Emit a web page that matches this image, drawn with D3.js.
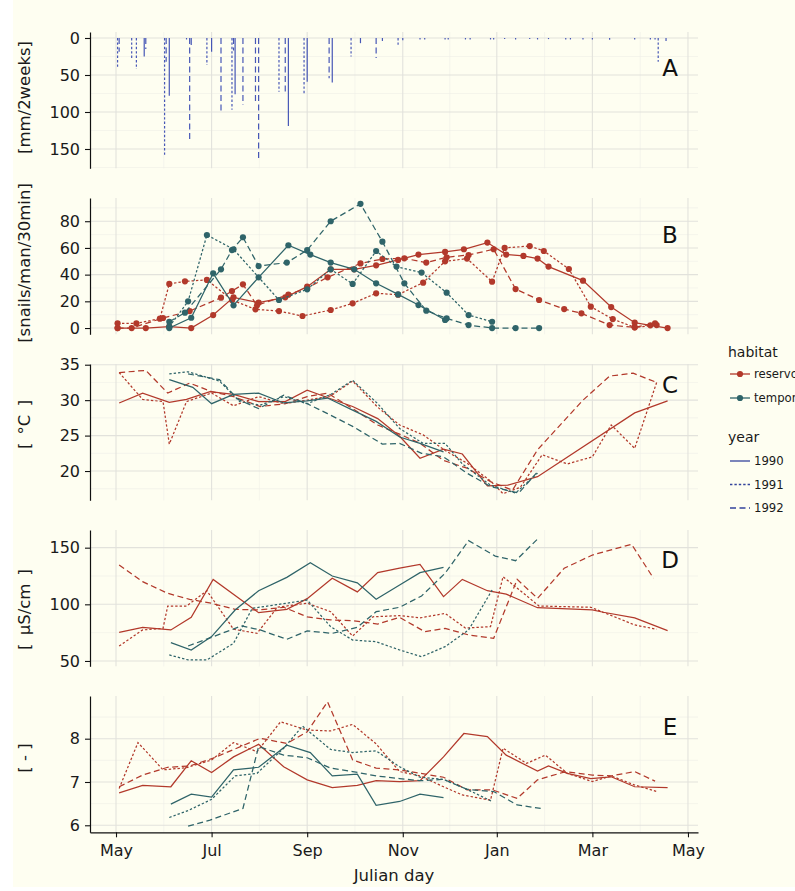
<!DOCTYPE html>
<html>
<head>
<meta charset="utf-8">
<script src="https://cdn.jsdelivr.net/npm/d3@7"></script>
<style>
  body { margin: 0; background: #ffffff; }
  svg { display: block; }
  text { font-family: "DejaVu Sans", Verdana, sans-serif; }
</style>
</head>
<body>
<svg id="chart" width="795" height="891"></svg>
<script>
// ---- Season axis: day 0 = 1 May ----
const monthTickDays = [0, 61, 122, 183, 243, 304, 365];
const monthLabels = ["May", "Jul", "Sep", "Nov", "Jan", "Mar", "May"];

// ---- Y tick values per panel ----
const rainTicks = [0, 50, 100, 150];
const snailTicks = [0, 20, 40, 60, 80];
const tempTicks = [20, 25, 30, 35];
const condTicks = [50, 100, 150];
const phTicks = [6, 7, 8];

const habitatLabels = ["reservoir", "temporary"];
const yearLabels = ["1990", "1991", "1992"];

// ---- A: rainfall, [day, mm per 2 weeks] ----
const rain1990 = [[18,25],[34,78],[48,9.5],[61,18.5],[76,76],[110,119],[122,59],[138,60],[156,7],[183,3],[210,2],[241,2],[264,1.5],[290,2],[315,2.5],[341,2]];
const rain1991 = [[1,41],[10,27.5],[13,42],[31,160],[58,36.5],[74,97],[104,72.5],[120,74.8],[150,25],[180,11.7],[197,2],[226,2],[248,1.5],[269,2],[298,2],[331,2],[346,32]];
const rain1992 = [[2,18.5],[19,15],[32,32],[45,2],[47,137],[67,102],[75,17],[81,90.5],[89,88],[91,167],[108,74.8],[136,54.5],[166,27],[170,4],[194,2],[212,2],[223,2],[239,2],[255,2],[276,1.5],[287,2],[304,2],[344,2],[351,4]];

// ---- B: snail counts, [day, snails/man/30min] ----
const snailsReservoir1990 = [[1,0],[19,0],[34,1],[48,0],[62,9.7],[75,23],[91,19],[108,23],[122,31],[137,44],[152,44],[166,47],[180,51],[193,55],[210,57],[222,59],[237,64],[249,55],[260,54],[269,52],[276,46],[298,35.5],[316,15.7],[331,4],[341,2],[352,0]];
const snailsReservoir1991 = [[1,3.5],[13,3.5],[28,7],[34,33],[44,35],[58,36],[74,21],[89,14],[104,12.7],[119,9],[137,13.5],[151,18.5],[166,26],[180,25],[196,34],[210,50],[224,52],[240,34.7],[248,60],[264,61.4],[273,57.7],[289,44.2],[303,16],[317,6.7],[331,0.5],[345,2.2]];
const snailsReservoir1992 = [[1,0],[10,0],[30,7.5],[47,12.7],[67,22.7],[74,27.7],[81,32.7],[90,17],[110,25],[122,30],[135,38],[156,48.4],[170,51.7],[184,52.2],[198,49],[211,53],[225,54.7],[241,59],[255,29.2],[270,21],[286,14.2],[297,11],[315,2.2],[331,0.5],[344,3.5]];
const snailsTemporary1990 = [[34,0],[48,7.7],[62,41],[75,17],[91,38],[110,62],[124,55],[137,49],[152,44],[166,33.5],[180,25.2],[193,17.2],[210,6]];
const snailsTemporary1991 = [[34,1],[46,20],[58,69.7],[75,59],[104,21],[122,29],[137,44],[151,33],[166,57.7],[179,46],[195,41.5],[211,26.5],[225,9.7],[240,4.7]];
const snailsTemporary1992 = [[34,4.7],[44,11.5],[67,44],[74,58.4],[81,68],[91,46.4],[109,49],[122,58.4],[137,80],[156,93],[170,64.7],[184,33.5],[198,13],[211,7.2],[225,2.2],[240,0],[255,0],[270,0]];

// ---- C: water temperature, [day, °C] ----
const tempReservoir1990 = [[2,29.6],[17,31.0],[34,29.7],[45,30.1],[60,31.2],[75,30.8],[91,29.8],[108,29.8],[122,31.4],[137,30.2],[151,29.1],[167,27.4],[181,24.9],[194,21.8],[209,23.1],[221,22.4],[237,17.9],[250,18.0],[269,19.2],[331,28.2],[352,29.9]];
const tempReservoir1991 = [[2,33.9],[17,30.1],[30,29.8],[34,23.8],[45,29.8],[61,31.0],[75,29.2],[91,30.5],[107,29.5],[122,30.0],[137,30.6],[151,32.7],[167,29.0],[181,26.5],[196,25.1],[210,22.9],[224,21.1],[239,18.6],[247,16.8],[258,17.7],[272,22.3],[288,21.0],[304,22.0],[316,26.5],[331,23.2],[345,32.5]];
const tempReservoir1992 = [[2,33.9],[19,34.2],[33,31.0],[47,32.4],[61,31.2],[75,30.5],[92,29.1],[108,29.5],[122,30.5],[135,31.0],[151,28.8],[167,26.5],[181,25.2],[194,23.9],[209,21.5],[224,20.4],[239,18.5],[253,17.3],[269,23.0],[298,30.0],[315,33.4],[330,33.8],[345,32.5]];
const tempTemporary1990 = [[34,32.9],[49,31.8],[61,29.5],[75,30.8],[91,31.0],[107,29.6],[122,29.9],[135,30.3],[151,28.6],[166,27.0],[181,24.8],[194,23.9],[209,22.7]];
const tempTemporary1991 = [[34,33.7],[46,34.0],[66,32.7],[79,29.8],[92,29.3],[107,30.5],[122,29.5],[137,30.8],[151,32.8],[167,29.5],[181,26.0],[196,23.9],[210,23.9],[221,21.0],[239,18.0],[255,16.9],[269,19.7]];
const tempTemporary1992 = [[46,33.7],[66,32.9],[78,30.1],[91,28.8],[107,30.7],[122,29.5],[135,28.1],[151,26.3],[170,23.8],[181,23.9],[195,22.5],[209,22.0],[224,19.7],[239,17.8],[257,16.9],[269,19.9]];

// ---- D: conductivity, [day, µS/cm] ----
const condReservoir1990 = [[2,75.3],[17,79.7],[35,77.4],[48,88.5],[62,122],[91,92.6],[109,95.6],[122,105],[138,123],[154,111],[167,128],[181,132],[194,135.3],[209,106.8],[221,122],[237,112],[249,109],[269,97],[304,95],[311,93],[331,88],[352,76.8]];
const condReservoir1991 = [[2,63.2],[17,77.4],[30,78.8],[33,98.5],[45,98.5],[58,112],[75,78],[90,74.4],[103,97.4],[122,101],[137,93.5],[151,72],[164,89],[181,90],[194,88],[210,92],[223,79],[239,80.3],[247,124.4],[270,98.5],[303,97.4],[331,81.8],[345,78]];
const condReservoir1992 = [[2,134.7],[17,120],[33,109.7],[47,104.4],[61,100.9],[76,95.6],[91,95],[107,97.4],[122,89],[137,86.2],[151,85.6],[167,82.6],[181,88.5],[197,75.9],[210,78.8],[225,73],[241,70],[256,122],[269,105.3],[286,131.8],[304,143.5],[329,153],[343,123]];
const condTemporary1990 = [[35,66.2],[48,59.7],[61,71.5],[76,95],[91,112],[109,123.8],[124,136.8],[138,125],[154,119],[166,104.4],[181,117],[194,128],[209,132.6]];
const condTemporary1991 = [[34,55.3],[46,50.9],[58,50.9],[75,65.6],[87,96.5],[109,101],[122,103.8],[137,80.3],[151,68.5],[166,67],[181,59.7],[195,53.8],[210,62.6],[225,77.4],[240,112.6]];
const condTemporary1992 = [[46,63.2],[61,70.9],[80,80.9],[92,77.4],[109,69.1],[122,76.5],[138,74.4],[154,79.7],[166,93.5],[181,97.4],[195,107.4],[210,127.4],[225,156.2],[242,142.6],[255,138.5],[270,159]];

// ---- E: pH, [day, pH] ----
const phReservoir1990 = [[2,6.75],[17,6.92],[35,6.89],[48,7.49],[61,7.22],[75,7.58],[91,7.87],[107,7.35],[122,7.05],[138,6.87],[154,6.92],[166,7.03],[181,7.01],[194,7.03],[209,7.58],[222,8.12],[237,8.05],[249,7.62],[269,7.25],[276,7.37],[288,7.2],[303,7.08],[316,7.12],[331,6.89],[352,6.87]];
const phReservoir1991 = [[2,6.85],[14,7.91],[30,7.28],[45,7.33],[61,7.51],[75,7.91],[90,7.70],[105,8.39],[122,8.2],[137,8.18],[151,8.33],[166,7.88],[181,7.24],[194,7.14],[209,6.89],[221,6.70],[239,6.58],[247,7.78],[262,7.43],[274,7.62],[288,7.2],[304,7.01],[316,7.14],[331,6.93],[345,6.78]];
const phReservoir1992 = [[2,6.89],[17,7.16],[33,7.34],[47,7.37],[62,7.55],[77,7.78],[92,8.01],[109,7.89],[122,8.16],[135,8.85],[151,7.51],[166,7.32],[181,7.28],[209,7.11],[224,6.82],[240,6.82],[256,6.62],[269,7.05],[287,7.24],[304,7.16],[316,7.14],[331,7.24],[344,7.02]];
const phTemporary1990 = [[35,6.49],[48,6.72],[61,6.65],[75,7.28],[91,7.34],[109,7.85],[124,7.68],[138,7.14],[154,7.18],[166,6.46],[181,6.55],[194,6.72],[209,6.64]];
const phTemporary1991 = [[34,6.18],[46,6.34],[61,6.6],[76,7.14],[90,7.2],[107,7.78],[119,8.29],[137,7.75],[151,7.68],[166,7.72],[181,7.35],[194,7.11],[209,7.06],[224,6.83],[240,6.55]];
const phTemporary1992 = [[46,5.98],[60,6.12],[81,6.39],[91,7.82],[107,7.62],[122,7.56],[137,7.32],[151,7.24],[166,7.14],[181,7.08],[194,7.03],[209,7.06],[224,6.83],[241,6.78],[256,6.47],[271,6.39]];

// ---- styling ----
const bg = "#fefef1";
const habitatColor = { reservoir: "#b2392b", temporary: "#2f6469" };
const rainColor = "#4757b6";
const yearKeyColor = "#33439c";
const yearDash = { "1990": null, "1991": "2.4,2", "1992": "6,3.5" };
const gridMajor = "#e2e2dc";
const gridMinor = "#eeeee7";

const svg = d3.select("#chart");
svg.append("rect").attr("x", 13).attr("y", 0).attr("width", 782).attr("height", 887).attr("fill", bg);

const left = 90, right = 698, panelH = 136.3;
const x = d3.scaleLinear().domain([-16.6, 371.4]).range([left, right]);

const lineSets = {
  B: { reservoir: [snailsReservoir1990, snailsReservoir1991, snailsReservoir1992],
       temporary: [snailsTemporary1990, snailsTemporary1991, snailsTemporary1992] },
  C: { reservoir: [tempReservoir1990, tempReservoir1991, tempReservoir1992],
       temporary: [tempTemporary1990, tempTemporary1991, tempTemporary1992] },
  D: { reservoir: [condReservoir1990, condReservoir1991, condReservoir1992],
       temporary: [condTemporary1990, condTemporary1991, condTemporary1992] },
  E: { reservoir: [phReservoir1990, phReservoir1991, phReservoir1992],
       temporary: [phTemporary1990, phTemporary1991, phTemporary1992] }
};

const panels = [
  { id: "A", top: 32,  domain: [-8.1, 176.1], reversed: true, ticks: rainTicks,  title: "[mm/2weeks]",        titleY: 97.5,  letterY: 76 },
  { id: "B", top: 198, domain: [-4.7, 97.4],  ticks: snailTicks, title: "[snails/man/30min]", titleY: 263,   letterY: 243 },
  { id: "C", top: 364, domain: [15.87, 35.1], ticks: tempTicks,  title: "[\u2002°C\u2002]",    titleY: 424.5, letterY: 393 },
  { id: "D", top: 530, domain: [45.3, 165.6], ticks: condTicks,  title: "[\u2002μS/cm\u2002]", titleY: 609.5, letterY: 568 },
  { id: "E", top: 696, domain: [5.838, 8.986], ticks: phTicks,   title: "[ - ]",              titleY: 758,   letterY: 735 }
];

// minor breaks halfway between majors, extended one step either side
function minorBreaks(ticks, domain) {
  const step = ticks[1] - ticks[0];
  const out = [];
  for (let v = ticks[0] - step / 2; v <= ticks[ticks.length - 1] + step; v += step) out.push(v);
  const lo = Math.min(...domain), hi = Math.max(...domain);
  return out.filter(v => v >= lo && v <= hi);
}
const minorDays = [];
for (let i = 0; i < monthTickDays.length - 1; i++) minorDays.push((monthTickDays[i] + monthTickDays[i + 1]) / 2);

panels.forEach(p => {
  const bottom = p.top + panelH;
  const y = d3.scaleLinear().domain(p.domain).range(p.reversed ? [p.top, bottom] : [bottom, p.top]);
  const g = svg.append("g").attr("class", "panel-" + p.id);

  // grid
  const grid = g.append("g");
  grid.selectAll("line.vmin").data(minorDays).join("line")
    .attr("x1", d => x(d)).attr("x2", d => x(d)).attr("y1", p.top).attr("y2", bottom)
    .attr("stroke", gridMinor).attr("stroke-width", 0.6);
  grid.selectAll("line.hmin").data(minorBreaks(p.ticks, p.domain)).join("line")
    .attr("x1", left).attr("x2", right).attr("y1", d => y(d)).attr("y2", d => y(d))
    .attr("stroke", gridMinor).attr("stroke-width", 0.6);
  grid.selectAll("line.vmaj").data(monthTickDays).join("line")
    .attr("x1", d => x(d)).attr("x2", d => x(d)).attr("y1", p.top).attr("y2", bottom)
    .attr("stroke", gridMajor).attr("stroke-width", 1.1);
  grid.selectAll("line.hmaj").data(p.ticks).join("line")
    .attr("x1", left).attr("x2", right).attr("y1", d => y(d)).attr("y2", d => y(d))
    .attr("stroke", gridMajor).attr("stroke-width", 1.1);

  // marks
  if (p.id === "A") {
    const rainSets = [rain1990, rain1991, rain1992];
    rainSets.forEach((set, i) => {
      g.append("g").selectAll("line").data(set).join("line")
        .attr("x1", d => x(d[0])).attr("x2", d => x(d[0]))
        .attr("y1", y(0)).attr("y2", d => y(d[1]))
        .attr("stroke", rainColor).attr("stroke-width", 1.2)
        .attr("stroke-dasharray", yearDash[yearLabels[i]]);
    });
  } else {
    const line = d3.line().x(d => x(d[0])).y(d => y(d[1]));
    habitatLabels.forEach(h => {
      lineSets[p.id][h].forEach((set, i) => {
        g.append("path").datum(set).attr("d", line)
          .attr("fill", "none").attr("stroke", habitatColor[h]).attr("stroke-width", 1.25)
          .attr("stroke-dasharray", yearDash[yearLabels[i]]);
        if (p.id === "B") {
          g.append("g").selectAll("circle").data(set).join("circle")
            .attr("cx", d => x(d[0])).attr("cy", d => y(d[1])).attr("r", 3.1)
            .attr("fill", habitatColor[h]);
        }
      });
    });
  }

  // y axis
  const ax = g.append("g").attr("transform", `translate(${left},0)`)
    .call(d3.axisLeft(y).tickValues(p.ticks).tickFormat(d3.format("d"))
      .tickSize(5).tickSizeOuter(0).tickPadding(5));
  ax.select(".domain").attr("stroke", "#111").attr("stroke-width", 1.2);
  ax.selectAll(".tick line").attr("stroke", "#111").attr("stroke-width", 1.1);
  ax.selectAll(".tick text").attr("font-size", 16).attr("fill", "#1a1a1a")
    .attr("font-family", "DejaVu Sans, sans-serif");

  // y title
  g.append("text")
    .attr("transform", `translate(29.5,${p.titleY}) rotate(-90)`)
    .attr("text-anchor", "middle").attr("font-size", 16.5).attr("fill", "#1a1a1a")
    .text(p.title);

  // panel letter
  g.append("text").attr("x", 670).attr("y", p.letterY)
    .attr("text-anchor", "middle").attr("font-size", 23).attr("fill", "#111")
    .text(p.id);

  // x axis on the bottom panel
  if (p.id === "E") {
    const xa = g.append("g").attr("transform", `translate(0,${bottom})`)
      .call(d3.axisBottom(x).tickValues(monthTickDays)
        .tickFormat((d, i) => monthLabels[i]).tickSize(5).tickSizeOuter(0).tickPadding(7));
    xa.select(".domain").attr("stroke", "#111").attr("stroke-width", 1.2);
    xa.selectAll(".tick line").attr("stroke", "#111").attr("stroke-width", 1.1);
    xa.selectAll(".tick text").attr("font-size", 16).attr("fill", "#1a1a1a")
      .attr("font-family", "DejaVu Sans, sans-serif");
    svg.append("text").attr("x", (left + right) / 2).attr("y", 881)
      .attr("text-anchor", "middle").attr("font-size", 16.5).attr("fill", "#1a1a1a")
      .text("Julian day");
  }
});

// ---- legend (runs off the right edge of the figure) ----
const lg = svg.append("g");
lg.append("text").attr("x", 728).attr("y", 357).attr("font-size", 14).attr("fill", "#1a1a1a").text("habitat");
habitatLabels.forEach((h, i) => {
  const cy = 374 + i * 24;
  lg.append("line").attr("x1", 730).attr("x2", 750).attr("y1", cy).attr("y2", cy)
    .attr("stroke", habitatColor[h]).attr("stroke-width", 1.3);
  lg.append("circle").attr("cx", 740).attr("cy", cy).attr("r", 3.1).attr("fill", habitatColor[h]);
  lg.append("text").attr("x", 754).attr("y", cy).attr("dy", "0.36em")
    .attr("font-size", 11.7).attr("fill", "#1a1a1a").text(h);
});
lg.append("text").attr("x", 728).attr("y", 442).attr("font-size", 14).attr("fill", "#1a1a1a").text("year");
yearLabels.forEach((yr, i) => {
  const cy = 461 + i * 23.5;
  lg.append("line").attr("x1", 730).attr("x2", 750).attr("y1", cy).attr("y2", cy)
    .attr("stroke", yearKeyColor).attr("stroke-width", 1.3)
    .attr("stroke-dasharray", yearDash[yr]);
  lg.append("text").attr("x", 754).attr("y", cy).attr("dy", "0.36em")
    .attr("font-size", 11.7).attr("fill", "#1a1a1a").text(yr);
});
</script>
</body>
</html>
